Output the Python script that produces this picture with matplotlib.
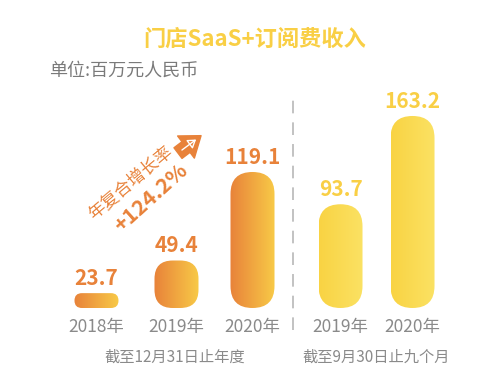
import numpy as np
import matplotlib
matplotlib.use('Agg')
import matplotlib.pyplot as plt
from matplotlib.patches import FancyBboxPatch, FancyArrowPatch
from matplotlib.colors import LinearSegmentedColormap

plt.rcParams['font.family'] = ['Noto Sans CJK SC', 'DejaVu Sans']

# data
years = ['2018年', '2019年', '2020年', '2019年', '2020年']
values = [23.7, 49.4, 119.1, 93.7, 163.2]
groups = ['截至12月31日止年度', '截至9月30日止九个月']
group_of = [0, 0, 0, 1, 1]

# layout
xpos = [0, 1, 1.95, 3.05, 3.95]
bar_w = 0.55
floor = 12
orange = '#E8823A'
yellow = '#F9CF45'
grads = [('#E8823A', '#F8CA47'), ('#F9D343', '#FBE264')]
label_col = [orange, yellow]

fig = plt.figure(figsize=(4.91, 3.85), dpi=100)
ax = fig.add_axes([0, 0.2, 1, 0.8])
xl = (-1.206, 4.931)
yl = (floor, floor + 308 / 1.27)

# px per data unit -> aspect for rounded corners
asp = (491 / (xl[1] - xl[0])) / 1.27

for x, v, g in zip(xpos, values, group_of):
    h = v - floor
    r = min(bar_w / 2, h / asp / 2.6) if h / asp < 2 * bar_w else bar_w / 2
    if h / asp < bar_w / 2:
        r = h / asp / 2
    patch = FancyBboxPatch((x - bar_w / 2, floor), bar_w, h,
                           boxstyle='round,pad=0,rounding_size=%f' % r,
                           mutation_aspect=asp, fc='none', ec='none')
    ax.add_patch(patch)
    cmap = LinearSegmentedColormap.from_list('g', grads[g])
    im = ax.imshow(np.linspace(0, 1, 256).reshape(1, -1), cmap=cmap,
                   extent=(x - bar_w / 2, x + bar_w / 2, floor, v),
                   aspect='auto', interpolation='bicubic')
    im.set_clip_path(patch)
    ax.text(x, v + 3.5, '%.1f' % v, ha='center', va='bottom',
            fontsize=15, fontweight='bold', color=label_col[g])

ax.set_xlim(*xl)
ax.set_ylim(*yl)

ax.set_xticks(xpos, years)
ax.tick_params(axis='x', length=0, pad=7, labelsize=12.5, labelcolor='#8a8a8a')
ax.set_yticks([])
for s in ax.spines.values():
    s.set_visible(False)
ax.patch.set_alpha(0)

# separator
sep = (xpos[2] + xpos[3]) / 2 - 0.04
ax.axvline(sep, ymin=(55 - 77) / 308, ymax=(288 - 77) / 308, clip_on=False,
           color='#bdbdbd', lw=1.3, dashes=(7, 5))

# group labels
for gi, name in enumerate(groups):
    xs = [x for x, g in zip(xpos, group_of) if g == gi]
    ax.text(np.mean(xs), -0.159, name, transform=ax.get_xaxis_transform(),
            ha='center', va='center', fontsize=11, color='#8a8a8a')

fig.text(0.519, 0.899, '门店SaaS+订阅费收入', ha='center', va='center',
         fontsize=16, fontweight='bold', color=yellow)
fig.text(0.100, 0.816, '单位:百万元人民币', ha='left', va='center',
         fontsize=13, color='#7a7a7a')

# growth annotation
fig.text(0.266, 0.525, '年复合增长率', rotation=40, ha='center', va='center',
         rotation_mode='anchor', fontsize=12.5, color=orange)
fig.text(0.307, 0.487, '+124.2%', rotation=42, ha='center', va='center',
         rotation_mode='anchor', fontsize=15.5, fontweight='bold', color=orange)
fig.patches.append(FancyArrowPatch(
    (0.358, 0.598), (0.414, 0.652), transform=fig.transFigure,
    arrowstyle='simple,head_length=0.85,head_width=1.25,tail_width=0.6',
    mutation_scale=16, fc=orange, ec=orange))
fig.patches.append(FancyArrowPatch(
    (0.366, 0.606), (0.404, 0.642), transform=fig.transFigure,
    arrowstyle='-|>,head_length=0.3,head_width=0.2',
    mutation_scale=16, fc='none', ec='white', lw=1.0))

fig.savefig('out.png', dpi=100)
